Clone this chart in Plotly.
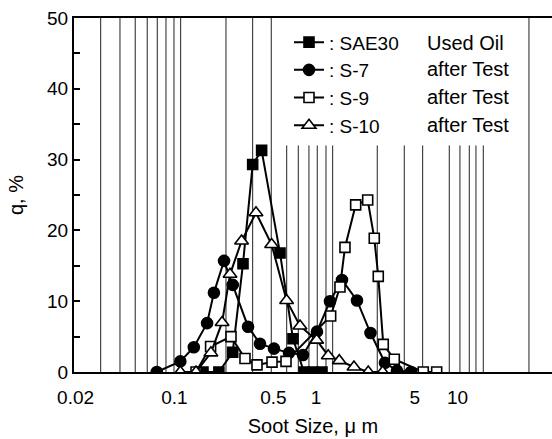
import plotly.graph_objects as go

# ---- data (x in micrometres, y in %) ----
sae30_x = [0.159, 0.206, 0.258, 0.305, 0.357, 0.413, 0.557, 0.688, 0.823, 0.952, 1.103]
sae30_y = [0, 0, 2.8, 15.3, 29.3, 31.3, 16.8, 4.7, 0, 0, 0]

s7_x = [0.075, 0.110, 0.137, 0.170, 0.190, 0.224, 0.258, 0.331, 0.402, 0.505,
        0.645, 0.809, 1.016, 1.256, 1.527, 1.949, 2.428, 3.073, 3.736, 4.692]
s7_y = [0, 1.5, 3.5, 6.9, 11.2, 15.7, 12.3, 6.4, 4.0, 3.3,
        2.7, 2.4, 5.7, 10.0, 13.0, 10.1, 5.5, 1.3, 0.2, 0]

s9_x = [0.142, 0.180, 0.251, 0.315, 0.383, 0.489, 0.614, 1.270, 1.478, 1.603,
        1.908, 2.320, 2.582, 2.756, 2.989, 3.576, 5.732, 7.129]
s9_y = [0, 3.6, 5.0, 1.9, 1.0, 1.4, 1.5, 7.9, 12.0, 17.6,
        23.6, 24.3, 18.9, 13.5, 3.9, 1.8, 0, 0]

s10_x = [0.110, 0.142, 0.181, 0.217, 0.247, 0.298, 0.377, 0.486, 0.620, 0.771,
         1.011, 1.221, 1.461, 1.856, 2.342, 2.960]
s10_y = [0, 0, 2.7, 7.0, 13.8, 18.5, 22.5, 18.0, 10.1, 6.5,
         4.5, 2.3, 1.6, 0.7, 0, 0]

series_names = [": SAE30", ": S-7", ": S-9", ": S-10"]
series_notes = ["Used Oil", "after Test", "after Test", "after Test"]

x_tick_vals = [0.02, 0.1, 0.5, 1, 5, 10]
x_tick_text = ["0.02", "0.1", "0.5", "1", "5", "10"]
y_tick_vals = [0, 10, 20, 30, 40, 50]

# vertical log-paper grid lines (full height / stopped below the legend)
grid_full = [0.0301, 0.0412, 0.0528, 0.0642, 0.0756, 0.0871, 0.0992, 0.1106,
             0.2312, 0.357, 0.483, 32.0]
grid_short = [0.621, 0.750, 0.892, 1.021, 1.177, 1.312, 2.711, 4.207, 5.676,
              8.750, 10.41, 12.12, 13.51, 15.22]

FONT = "Liberation Sans, Arial, Helvetica, sans-serif"

fig = go.Figure()

styles = [
    dict(symbol="square", filled=True, size=10),
    dict(symbol="circle", filled=True, size=11),
    dict(symbol="square", filled=False, size=10),
    dict(symbol="triangle-up", filled=False, size=12),
]
for (xs, ys), name, st in zip([(sae30_x, sae30_y), (s7_x, s7_y), (s9_x, s9_y), (s10_x, s10_y)],
                              series_names, styles):
    fig.add_trace(go.Scatter(
        x=xs, y=ys, name=name, mode="lines+markers",
        line=dict(color="black", width=2),
        marker=dict(symbol=st["symbol"], size=st["size"],
                    color="black" if st["filled"] else "white",
                    line=dict(color="black", width=1.6)),
    ))

shapes = []
for g in grid_full:
    shapes.append(dict(type="line", xref="x", yref="y", x0=g, x1=g, y0=0, y1=50,
                       line=dict(color="#222", width=1), layer="below"))
for g in grid_short:
    shapes.append(dict(type="line", xref="x", yref="y", x0=g, x1=g, y0=0, y1=32,
                       line=dict(color="#222", width=1), layer="below"))

row_y = [0.928, 0.857, 0.778, 0.698]
annotations = [dict(text=t, xref="paper", yref="paper", x=0.734, y=yy, xanchor="left",
                    yanchor="middle", showarrow=False, font=dict(family=FONT, size=20, color="black"))
               for t, yy in zip(series_notes, row_y)]

fig.update_layout(
    width=552, height=439, autosize=False,
    margin=dict(l=74, r=0, t=18, b=67),
    paper_bgcolor="white", plot_bgcolor="white",
    font=dict(family=FONT, size=19, color="black"),
    shapes=shapes, annotations=annotations,
    showlegend=True,
    legend=dict(x=(289 - 74) / 478, xanchor="left", y=0.985, yanchor="top",
                bgcolor="rgba(0,0,0,0)", font=dict(family=FONT, size=19, color="black"),
                itemwidth=30, tracegroupgap=0),
    xaxis=dict(type="log", range=[-1.710, 1.668], tickvals=x_tick_vals, ticktext=x_tick_text,
               tickfont=dict(size=19),
               showgrid=False, zeroline=False, showline=True, linecolor="black", linewidth=2,
               mirror=True, ticks="outside", ticklen=7, tickcolor="rgba(0,0,0,0)",
               title=dict(text="Soot Size, μ m", font=dict(size=20), standoff=12)),
    yaxis=dict(range=[0, 50], tickvals=y_tick_vals, showgrid=False, zeroline=False,
               tickfont=dict(size=19),
               showline=True, linecolor="black", linewidth=2,
               ticks="inside", ticklen=6, tickwidth=1.5, tickcolor="black",
               minor=dict(dtick=5, ticks="inside", ticklen=6, tickwidth=1.5, tickcolor="black"),
               title=dict(text="q, %", font=dict(size=20), standoff=18)),
)

fig.write_html("out.html")
